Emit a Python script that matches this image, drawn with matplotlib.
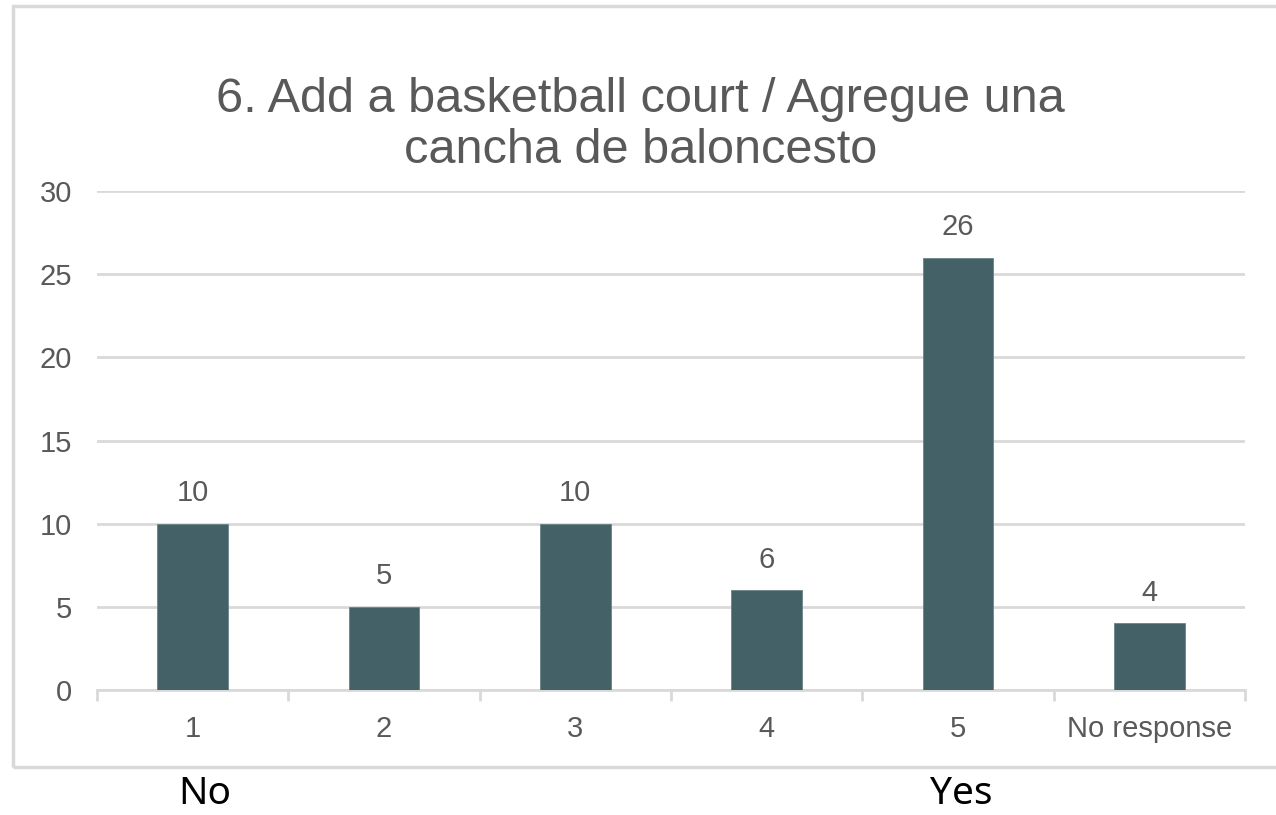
import matplotlib
matplotlib.use("Agg")
import matplotlib.pyplot as plt
from matplotlib.patches import Rectangle

categories = ["1", "2", "3", "4", "5", "No response"]
counts = [10, 5, 10, 6, 26, 4]
title = "6. Add a basketball court / Agregue una\ncancha de baloncesto"
bar_color = "#436166"
text_color = "#595959"
grid_color = "#d9d9d9"

W, H = 1276, 815
fig = plt.figure(figsize=(W / 100, H / 100), dpi=100)
fig.patch.set_facecolor("white")

# chart frame (cut off on the right)
fig.patches.append(Rectangle((13 / W, 1 - 767 / H), 1.2, (767 - 6) / H,
                             transform=fig.transFigure, fill=False,
                             edgecolor=grid_color, linewidth=2.5))

ax = fig.add_axes([97 / W, 1 - 690 / H, (1245 - 97) / W, (690 - 191) / H])
x = list(range(len(categories)))
ax.bar(x, counts, width=0.37, color=bar_color, edgecolor="#6b8387",
       linewidth=0.6, zorder=3)
for xi, v in zip(x, counts):
    ax.annotate(str(v), (xi, v), xytext=(0, 12), textcoords="offset points",
                ha="center", va="bottom", fontsize=21, color=text_color,
                family="Liberation Sans")

ax.set_xlim(-0.5, len(categories) - 0.5)
ax.set_ylim(0, 30)
ax.set_yticks(range(0, 31, 5))
ax.yaxis.grid(True, color=grid_color, linewidth=2)
ax.set_axisbelow(True)
for s in ["top", "right", "left"]:
    ax.spines[s].set_visible(False)
ax.spines["bottom"].set_color(grid_color)
ax.spines["bottom"].set_linewidth(2)

ax.set_xticks(x)
ax.set_xticklabels(categories)
ax.set_xticks([i - 0.5 for i in range(len(categories) + 1)], minor=True)
ax.tick_params(axis="x", which="major", length=0, pad=18, labelsize=21,
               labelcolor=text_color)
ax.tick_params(axis="x", which="minor", length=8, width=2, color=grid_color)
ax.tick_params(axis="y", length=0, pad=18, labelsize=21, labelcolor=text_color)
for lab in ax.get_xticklabels() + ax.get_yticklabels():
    lab.set_family("Liberation Sans")

fig.text(0.502, 1 - 125 / H, title, ha="center", va="center", fontsize=35,
         color=text_color, family="Liberation Sans", linespacing=1.15)

# scale endpoints below the chart
ax.annotate("No", (0, 0), xycoords=("data", "figure fraction"),
            xytext=(205 / W, 1 - 794 / H), textcoords="figure fraction",
            ha="center", va="center", fontsize=28, color="black",
            family="Noto Sans")
ax.annotate("Yes", (0, 0), xycoords=("data", "figure fraction"),
            xytext=(961 / W, 1 - 794 / H), textcoords="figure fraction",
            ha="center", va="center", fontsize=28, color="black",
            family="Noto Sans")

fig.savefig("out.png", dpi=100, facecolor="white")
